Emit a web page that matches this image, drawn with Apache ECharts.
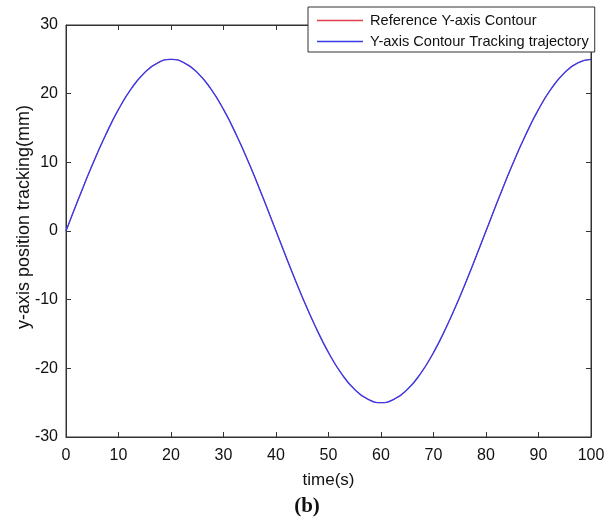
<!DOCTYPE html>
<html>
<head>
<meta charset="utf-8">
<script src="https://cdn.jsdelivr.net/npm/echarts@6/dist/echarts.min.js"></script>
<style>html,body{margin:0;padding:0;background:#fff}#c{width:614px;height:527px}</style>
</head>
<body>
<div id="c"></div>
<script>
// time samples (s)
const timeS = [0,2.5,5,7.5,10,12.5,15,17.5,20,22.5,25,27.5,30,32.5,35,37.5,40,42.5,45,47.5,50,52.5,55,57.5,60,62.5,65,67.5,70,72.5,75,77.5,80,82.5,85,87.5,90,92.5,95,97.5,100];
// reference y contour (mm)
const refY = [0,4.9,9.6,13.9,17.7,20.8,23.1,24.5,25,24.5,23.1,20.8,17.7,13.9,9.6,4.9,0,-4.9,-9.6,-13.9,-17.7,-20.8,-23.1,-24.5,-25,-24.5,-23.1,-20.8,-17.7,-13.9,-9.6,-4.9,0,4.9,9.6,13.9,17.7,20.8,23.1,24.5,25];
// tracking trajectory (mm), visually identical to reference
const trackY = [0,4.9,9.6,13.9,17.7,20.8,23.1,24.5,25,24.5,23.1,20.8,17.7,13.9,9.6,4.9,0,-4.9,-9.6,-13.9,-17.7,-20.8,-23.1,-24.5,-25,-24.5,-23.1,-20.8,-17.7,-13.9,-9.6,-4.9,0,4.9,9.6,13.9,17.7,20.8,23.1,24.5,25];
const seriesNames = ['Reference Y-axis Contour','Y-axis Contour Tracking trajectory'];
const xTitle = 'time(s)';
const yTitle = 'y-axis position tracking(mm)';

const pair = (xs, ys) => xs.map((x, i) => [x, ys[i]]);
const axisCol = '#333';
const font = 'Liberation Sans, Arial, sans-serif';

const chart = echarts.init(document.getElementById('c'), null, {renderer: 'canvas'});
chart.setOption({
  backgroundColor: '#fff',
  animation: false,
  title: {
    text: '(b)', left: 'center', top: 491,
    textStyle: {fontFamily: 'Liberation Serif, Times New Roman, serif', fontWeight: 'bold', fontSize: 21, color: '#111'}
  },
  graphic: [{
    type: 'text', x: 24, y: 217, rotation: Math.PI / 2,
    style: {text: yTitle, fontFamily: font, fontSize: 18, fill: '#111', align: 'center', verticalAlign: 'middle'}
  }],
  grid: {left: 66, right: 23, top: 25, bottom: 90, show: true, borderColor: axisCol, borderWidth: 1, backgroundColor: 'transparent'},
  legend: {
    orient: 'vertical', left: 308, top: 7,
    data: seriesNames.map(n => ({name: n, icon: 'rect'})),
    itemWidth: 46, itemHeight: 1.5, itemGap: 6,
    padding: [6, 6, 3, 9],
    borderColor: '#333', borderWidth: 1, backgroundColor: '#fff',
    textStyle: {fontFamily: font, fontSize: 14.6, color: '#111', padding: [0, 0, 0, 2]},
    z: 10
  },
  xAxis: [{
    type: 'value', min: 0, max: 100, interval: 10,
    name: xTitle, nameLocation: 'middle', nameGap: 35,
    nameTextStyle: {fontFamily: font, fontSize: 17, color: '#111'},
    axisLine: {show: true, onZero: false, lineStyle: {color: axisCol}},
    axisTick: {show: true, inside: true, length: 5, lineStyle: {color: axisCol}},
    axisLabel: {fontFamily: font, fontSize: 16, color: '#111', margin: 11},
    splitLine: {show: false}
  }, {
    type: 'value', min: 0, max: 100, interval: 10, position: 'top',
    axisLine: {show: true, onZero: false, lineStyle: {color: axisCol}},
    axisTick: {show: true, inside: true, length: 5, lineStyle: {color: axisCol}},
    axisLabel: {show: false}, splitLine: {show: false}
  }],
  yAxis: [{
    type: 'value', min: -30, max: 30, interval: 10,
    axisLine: {show: true, onZero: false, lineStyle: {color: axisCol}},
    axisTick: {show: true, inside: true, length: 5, lineStyle: {color: axisCol}},
    axisLabel: {fontFamily: font, fontSize: 16, color: '#111', margin: 8},
    splitLine: {show: false}
  }, {
    type: 'value', min: -30, max: 30, interval: 10, position: 'right',
    axisLine: {show: true, onZero: false, lineStyle: {color: axisCol}},
    axisTick: {show: true, inside: true, length: 5, lineStyle: {color: axisCol}},
    axisLabel: {show: false}, splitLine: {show: false}
  }],
  series: [{
    name: seriesNames[0], type: 'line', xAxisIndex: 0, yAxisIndex: 0,
    data: pair(timeS, refY), smooth: true, symbol: 'none',
    lineStyle: {color: '#e0404a', width: 1}, itemStyle: {color: '#e0404a'}
  }, {
    name: seriesNames[1], type: 'line', xAxisIndex: 0, yAxisIndex: 0,
    data: pair(timeS, trackY), smooth: true, symbol: 'none',
    lineStyle: {color: '#3a3ae8', width: 1.4}, itemStyle: {color: '#3a3ae8'}
  }]
});
</script>
</body>
</html>
